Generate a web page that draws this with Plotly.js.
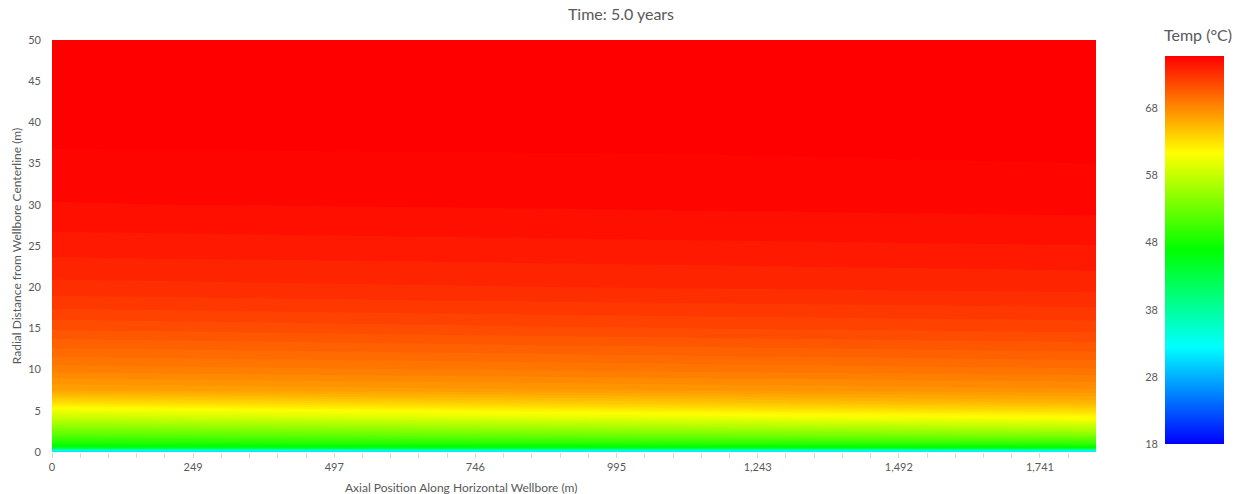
<!DOCTYPE html>
<html>
<head>
<meta charset="utf-8">
<script src="https://cdn.plot.ly/plotly-3.0.1.min.js"></script>
<style>
  html, body { margin: 0; padding: 0; background: #ffffff; }
  #chart { width: 1242px; height: 494px; }
</style>
</head>
<body>
<div id="chart"></div>
<script>
// Axial positions (m) of the sampled temperature profiles
const axialPos = [0, 920, 1840];
// Radial distance from wellbore centerline (m)
const radialPos = [0, 0.25, 0.5, 1, 2, 3, 4, 5, 6, 7.5, 10, 12.5, 15, 17.5, 20, 24, 27, 30, 33, 36, 38, 42, 50];
// Temperature profiles (°C)
const tempHeel = [29, 35, 44.5, 48, 51.5, 54.5, 57.5, 60.2, 63, 66.3, 68.3, 69.7, 71.0, 72.1, 73.0, 73.85, 74.4, 74.9, 75.1, 75.3, 75.8, 75.8, 75.8];
const tempMid  = [29.5, 35.5, 45.3, 48.8, 52.8, 56, 59.2, 61.8, 64.2, 66.8, 68.7, 70.1, 71.4, 72.4, 73.2, 74.0, 74.55, 75.0, 75.2, 75.45, 75.8, 75.8, 75.8];
const tempToe  = [30, 36, 46, 49.5, 54, 57.5, 60.7, 63.2, 65.3, 67.3, 69.1, 70.5, 71.7, 72.6, 73.4, 74.15, 74.7, 75.1, 75.3, 75.6, 75.8, 75.8, 75.8];

// Axis ticks
const xTickVals = [0, 248.75, 497.5, 746.25, 995, 1243.75, 1492.5, 1741.25];
const xTickText = ["0", "249", "497", "746", "995", "1,243", "1,492", "1,741"];
const cbTickVals = [18, 28, 38, 48, 58, 68];
const tempMin = 18, tempMax = 75.8;
const levelStep = 0.575, levelTop = 75.5;

const z = radialPos.map((r, i) => [tempHeel[i], tempMid[i], tempToe[i]]);

const grey = '#595959';
const font = 'Lato, "Open Sans", sans-serif';

const colorscale = [[0, '#0000ff'], [0.25, '#00ffff'], [0.5, '#00ff00'], [0.75, '#ffff00'], [1, '#ff0000']];

// plot area: left 52px, width 1044px within a 1180px-wide paper
const W = 1180;
const dom = 1044 / W;

const traces = [
  {
    type: 'contour',
    x: axialPos,
    y: radialPos,
    z: z,
    zauto: false,
    zmin: tempMin,
    zmax: tempMax,
    autocontour: false,
    contours: {start: tempMin, end: levelTop, size: levelStep, coloring: 'fill', showlines: false},
    line: {width: 0, smoothing: 0},
    colorscale: colorscale,
    showscale: false,
    hoverinfo: 'skip'
  },
  {
    type: 'scatter',
    mode: 'markers',
    x: [null, null], y: [null, null],
    xaxis: 'x',
    yaxis: 'y2',
    hoverinfo: 'skip',
    showlegend: false,
    marker: {
      color: [tempMin, tempMax],
      cmin: tempMin,
      cmax: tempMax,
      colorscale: colorscale,
      showscale: true,
      colorbar: {
        x: (1165 - 52) / W,
        xanchor: 'left',
        xpad: 0,
        ypad: 0,
        thickness: 59,
        thicknessmode: 'pixels',
        len: 388 / 412,
        lenmode: 'fraction',
        y: 8 / 412,
        yanchor: 'bottom',
        outlinewidth: 0,
        showticklabels: false,
        ticks: ''
      }
    }
  }
];

const layout = {
  width: 1242,
  height: 494,
  margin: {l: 52, r: 10, t: 40, b: 42},
  paper_bgcolor: '#ffffff',
  plot_bgcolor: 'rgba(0,0,0,0)',
  showlegend: false,
  hovermode: false,
  font: {family: font, size: 11, color: grey},
  title: {
    text: 'Time: 5.0 years',
    font: {family: font, size: 16, color: grey},
    x: 0.5, xanchor: 'center',
    y: 1 - 14 / 494, yanchor: 'middle'
  },
  xaxis: {
    domain: [0, dom],
    range: [0, 1840],
    tickmode: 'array',
    tickvals: xTickVals,
    ticktext: xTickText,
    ticks: 'outside',
    ticklen: 5,
    tickcolor: '#d9d9d9',
    showgrid: false,
    zeroline: false,
    showline: false,
    tickfont: {family: font, size: 11, color: grey},
    minor: {ticks: 'outside', ticklen: 5, tickcolor: '#d9d9d9', tickmode: 'linear', tick0: 0, dtick: 49.75, showgrid: false}
  },
  yaxis: {
    range: [0, 50],
    dtick: 5,
    tick0: 0,
    ticks: '',
    ticklabelstandoff: 10,
    showgrid: false,
    zeroline: false,
    showline: false,
    tickfont: {family: font, size: 11, color: grey},
    title: {text: 'Radial Distance from Wellbore Centerline (m)', font: {family: font, size: 12, color: grey}, standoff: 4}
  },
  yaxis2: {
    anchor: 'free',
    side: 'left',
    position: (1158 - 52) / W,
    domain: [8 / 412, 396 / 412],
    range: [tempMin, tempMax],
    tickmode: 'array',
    tickvals: cbTickVals,
    ticks: '',
    showgrid: false,
    zeroline: false,
    showline: false,
    tickfont: {family: font, size: 11, color: grey}
  },
  annotations: [
    {
      text: 'Axial Position Along Horizontal Wellbore (m)',
      xref: 'paper', yref: 'paper',
      x: (461 - 52) / W, y: -(487 - 452) / 412,
      xanchor: 'center', yanchor: 'middle',
      showarrow: false,
      font: {family: font, size: 12, color: grey}
    },
    {
      text: 'Temp (°C)',
      xref: 'paper', yref: 'paper',
      x: (1198 - 52) / W, y: (452 - 35) / 412,
      xanchor: 'center', yanchor: 'middle',
      showarrow: false,
      font: {family: font, size: 16, color: grey}
    }
  ]
};

Plotly.newPlot('chart', traces, layout, {displayModeBar: false, staticPlot: true});
</script>
</body>
</html>
